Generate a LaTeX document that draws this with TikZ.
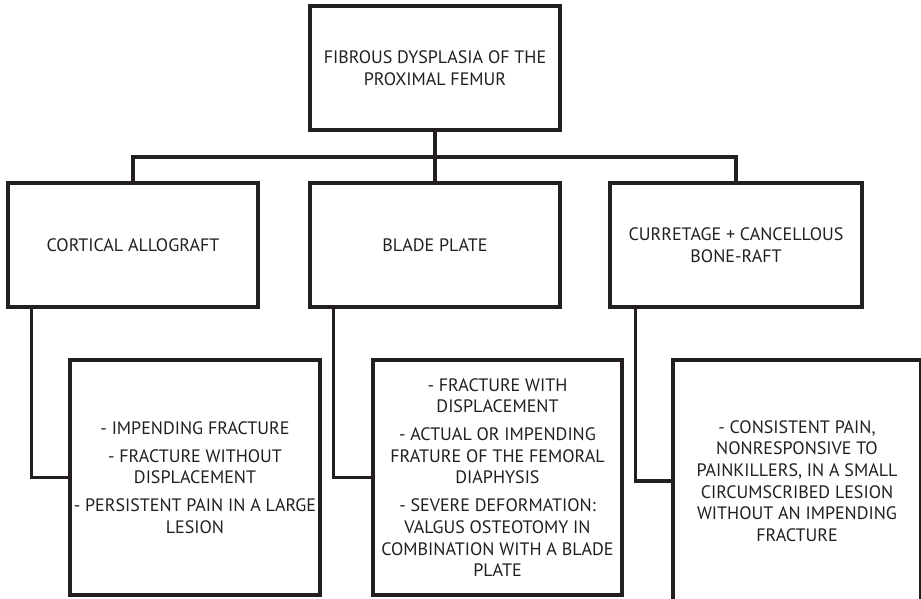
\documentclass[tikz,border=0pt]{standalone}
\usepackage{fontspec}
\setmainfont{PT Sans}
\usepackage{tikz}
\usetikzlibrary{positioning}
\definecolor{ink}{HTML}{231F20}

\begin{document}
\begin{tikzpicture}[
    x=1pt, y=1pt,
    font=\fontsize{18}{21.7}\selectfont,
    every node/.style={text=ink},
    treat/.style={
		rectangle,
		draw=ink,
		line width=3.2pt,
		align=center,
		inner sep=1pt,
		minimum width=250pt,
		minimum height=124pt,
		fill=white
	},
	crit/.style={
		treat,
		minimum height=235pt
	},
	link/.style={
		draw=ink,
		line width=3.2pt
	}
  ]
  \useasboundingbox (0,0) rectangle (921,-598);
  \clip (0,0) rectangle (921,-598);
    % We start by placing the blocks

  \node [treat] (femur) at (435,-68)
 {FIBROUS DYSPLASIA OF THE\\PROXIMAL FEMUR};

  \node [treat] (allograft) at (133,-245)
 {CORTICAL ALLOGRAFT};

  \node [treat] (blade) at (435,-245)
 {BLADE PLATE};

  \node [treat, minimum width=252pt] (curretage) at (736,-245)
 {CURRETAGE + CANCELLOUS\\BONE-RAFT};

  \node [crit] (crit1) at (195,-477.5)
 {- IMPENDING FRACTURE\\[6pt]
  - FRACTURE WITHOUT\\DISPLACEMENT\\[6pt]
  - PERSISTENT PAIN IN A LARGE\\LESION};

  \node [crit, minimum width=249pt] (crit2) at (497.5,-477.5)
 {- FRACTURE WITH\\DISPLACEMENT\\[6pt]
  - ACTUAL OR IMPENDING\\FRATURE OF THE FEMORAL\\DIAPHYSIS\\[6pt]
  - SEVERE DEFORMATION:\\VALGUS OSTEOTOMY IN\\COMBINATION WITH A BLADE\\PLATE};

  \node [crit, minimum width=248pt, minimum height=242pt] (crit3) at (797,-481)
 {- CONSISTENT PAIN,\\NONRESPONSIVE TO\\PAINKILLERS, IN A SMALL\\CIRCUMSCRIBED LESION\\WITHOUT AN IMPENDING\\FRACTURE};

  \coordinate (bus) at (435,-157);

 \draw [link] (femur) -- (blade);
 \draw [link] (allograft.north) |- (bus) -| (curretage.north);
 \draw [link] ([xshift=25pt]allograft.south west) |- (crit1.west);
 \draw [link] ([xshift=25pt]blade.south west) |- (crit2.west);
 \draw [link] ([xshift=27pt]curretage.south west) |- (crit3.west);

\end{tikzpicture}
\end{document}
